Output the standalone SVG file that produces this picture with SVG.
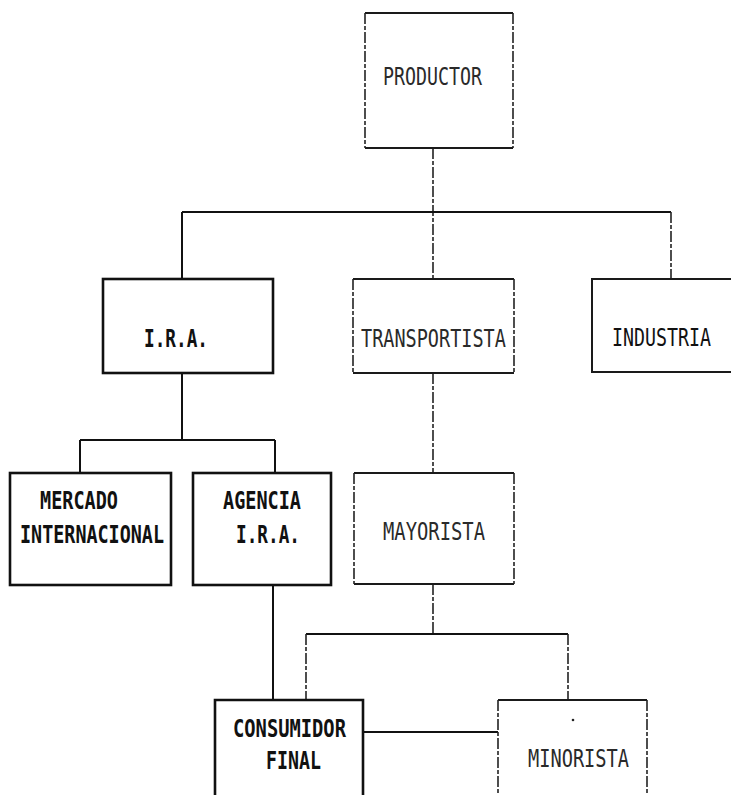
<svg xmlns="http://www.w3.org/2000/svg" width="731" height="795" viewBox="0 0 731 795">
<style>
  .bold-box { fill: none; stroke: #111; stroke-width: 2.6; }
  .mid-box { fill: none; stroke: #1a1a1a; stroke-width: 2; }
  .h { stroke: #1a1a1a; stroke-width: 1.8; fill: none; }
  .v { stroke: #222; stroke-width: 1.6; stroke-dasharray: 11 2 4 2; fill: none; }
  .c { stroke: #111; stroke-width: 2; fill: none; }
  .cd { stroke: #222; stroke-width: 1.6; stroke-dasharray: 11 2 4 2; fill: none; }
  .t { font-family: "DejaVu Sans Mono", "Liberation Mono", monospace; font-size: 24px; fill: #111; }
  .tb { font-weight: bold; }
  .tl { fill: #2a2a2a; }
</style>
<rect width="731" height="795" fill="#fff"/>
<g id="connectors">
  <line class="cd" x1="433" y1="148" x2="433" y2="279"/>
  <line class="c" x1="182" y1="212" x2="671" y2="212"/>
  <line class="c" x1="182" y1="212" x2="182" y2="279"/>
  <line class="cd" x1="671" y1="212" x2="671" y2="280"/>
  <line class="c" x1="182" y1="373" x2="182" y2="440"/>
  <line class="c" x1="80" y1="440" x2="275" y2="440"/>
  <line class="c" x1="80" y1="440" x2="80" y2="473"/>
  <line class="c" x1="275" y1="440" x2="275" y2="473"/>
  <line class="cd" x1="433" y1="373" x2="433" y2="473"/>
  <line class="cd" x1="433" y1="584" x2="433" y2="634"/>
  <line class="c" x1="306" y1="634" x2="568" y2="634"/>
  <line class="cd" x1="306" y1="634" x2="306" y2="700"/>
  <line class="cd" x1="568" y1="634" x2="568" y2="700"/>
  <line class="c" x1="273" y1="585" x2="273" y2="700"/>
  <line class="c" x1="363" y1="732" x2="498" y2="732"/>
</g>
<g id="productor">
  <path class="h" d="M365 13 H513 M365 148 H513"/>
  <path class="v" d="M365 13 V148 M513 13 V148"/>
  <text class="t tl" transform="translate(383 85) scale(0.762 1)">PRODUCTOR</text>
</g>
<g id="ira">
  <rect class="bold-box" x="103" y="279" width="170" height="94"/>
  <text class="t tb" transform="translate(144 347) scale(0.738 1)">I.R.A.</text>
</g>
<g id="transportista">
  <path class="h" d="M353 279 H514 M353 373 H514"/>
  <path class="v" d="M353 279 V373 M514 279 V373"/>
  <text class="t tl" transform="translate(361 347) scale(0.772 1)">TRANSPORTISTA</text>
</g>
<g id="industria">
  <path class="mid-box" d="M731 279 H592 V372 H731"/>
  <text class="t" transform="translate(612 346) scale(0.762 1)">INDUSTRIA</text>
</g>
<g id="mercado">
  <rect class="bold-box" x="10" y="473" width="161" height="112"/>
  <text class="t tb" transform="translate(40 509) scale(0.771 1)">MERCADO</text>
  <text class="t tb" transform="translate(20 543) scale(0.767 1)">INTERNACIONAL</text>
</g>
<g id="agencia">
  <rect class="bold-box" x="193" y="473" width="138" height="112"/>
  <text class="t tb" transform="translate(223 509) scale(0.771 1)">AGENCIA</text>
  <text class="t tb" transform="translate(236 543) scale(0.738 1)">I.R.A.</text>
</g>
<g id="mayorista">
  <path class="h" d="M354 473 H514 M354 584 H514"/>
  <path class="v" d="M354 473 V584 M514 473 V584"/>
  <text class="t tl" transform="translate(383 540) scale(0.785 1)">MAYORISTA</text>
</g>
<g id="consumidor">
  <path class="bold-box" d="M215 795 V700 H363 V795"/>
  <text class="t tb" transform="translate(233 737) scale(0.782 1)">CONSUMIDOR</text>
  <text class="t tb" transform="translate(266 769) scale(0.761 1)">FINAL</text>
</g>
<g id="minorista">
  <path class="h" d="M498 700 H647"/>
  <path class="v" d="M498 700 V795 M647 700 V795"/>
  <circle cx="573" cy="720" r="1.3" fill="#222"/>
  <text class="t tl" transform="translate(528 767) scale(0.777 1)">MINORISTA</text>
</g>
</svg>
